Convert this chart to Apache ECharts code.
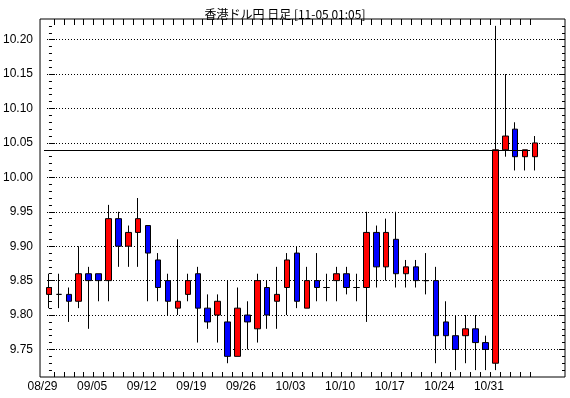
<!DOCTYPE html>
<html>
<head>
<meta charset="utf-8">
<script src="https://cdn.jsdelivr.net/npm/echarts@6/dist/echarts.min.js"></script>
<style>
  html, body { margin: 0; padding: 0; background: #fff; }
  #chart { width: 570px; height: 398px; }
</style>
</head>
<body>
<div id="chart"></div>
<script>
// trading days, 2011-08-29 .. 2011-11-04
var dates = [
  '08/29', '08/30', '08/31', '09/01', '09/02',
  '09/05', '09/06', '09/07', '09/08', '09/09',
  '09/12', '09/13', '09/14', '09/15', '09/16',
  '09/19', '09/20', '09/21', '09/22', '09/23',
  '09/26', '09/27', '09/28', '09/29', '09/30',
  '10/03', '10/04', '10/05', '10/06', '10/07',
  '10/10', '10/11', '10/12', '10/13', '10/14',
  '10/17', '10/18', '10/19', '10/20', '10/21',
  '10/24', '10/25', '10/26', '10/27', '10/28',
  '10/31', '11/01', '11/02', '11/03', '11/04'
];
var opens = [
  9.83, 9.83, 9.83, 9.82, 9.86, 9.86, 9.85, 9.94, 9.90, 9.92,
  9.93, 9.88, 9.85, 9.81, 9.83, 9.86, 9.81, 9.80, 9.79, 9.74,
  9.80, 9.78, 9.84, 9.82, 9.84, 9.89, 9.81, 9.85, 9.84, 9.85,
  9.86, 9.84, 9.84, 9.92, 9.87, 9.91, 9.86, 9.87, 9.85, 9.85,
  9.79, 9.77, 9.77, 9.78, 9.76, 9.73, 10.04, 10.07, 10.03, 10.03
];
var closes = [
  9.84, 9.83, 9.82, 9.86, 9.85, 9.85, 9.94, 9.90, 9.92, 9.94,
  9.89, 9.84, 9.82, 9.82, 9.85, 9.81, 9.79, 9.82, 9.74, 9.81,
  9.79, 9.85, 9.80, 9.83, 9.88, 9.82, 9.85, 9.84, 9.84, 9.86,
  9.84, 9.84, 9.92, 9.87, 9.92, 9.86, 9.87, 9.85, 9.85, 9.77,
  9.77, 9.75, 9.78, 9.76, 9.75, 10.04, 10.06, 10.03, 10.04, 10.05
];
var lows = [
  9.81, 9.81, 9.79, 9.81, 9.78, 9.82, 9.82, 9.87, 9.87, 9.87,
  9.82, 9.82, 9.80, 9.80, 9.82, 9.76, 9.78, 9.76, 9.73, 9.74,
  9.75, 9.76, 9.78, 9.78, 9.80, 9.81, 9.81, 9.82, 9.82, 9.82,
  9.83, 9.82, 9.79, 9.84, 9.85, 9.84, 9.84, 9.84, 9.83, 9.73,
  9.75, 9.72, 9.73, 9.72, 9.72, 9.72, 10.03, 10.01, 10.01, 10.01
];
var highs = [
  9.86, 9.86, 9.84, 9.90, 9.87, 9.86, 9.96, 9.95, 9.93, 9.97,
  9.93, 9.89, 9.86, 9.91, 9.86, 9.87, 9.83, 9.83, 9.85, 9.84,
  9.82, 9.86, 9.85, 9.87, 9.89, 9.90, 9.87, 9.89, 9.86, 9.87,
  9.87, 9.86, 9.95, 9.93, 9.94, 9.95, 9.88, 9.88, 9.89, 9.87,
  9.82, 9.80, 9.80, 9.80, 9.77, 10.22, 10.15, 10.08, 10.04, 10.06
];
var yLabels = [9.75, 9.80, 9.85, 9.90, 9.95, 10.00, 10.05, 10.10, 10.15, 10.20];
var currentPrice = 10.04;
var title = '香港ドル円 日足 [11-05 01:05]';

var Y_MIN = 9.71, Y_MAX = 10.23;
var X_MIN = -0.9, X_MAX = 52.02;
var FONT = '"Liberation Sans Narrow", "Liberation Sans", Arial, sans-serif';

var candles = dates.map(function (d, i) {
  return [i, opens[i], closes[i], lows[i], highs[i]];
});

var minorTicks = [];
for (var k = 1; k < 52; k++) minorTicks.push(+(Y_MIN + k * 0.01).toFixed(2));

var dayTicks = [];
for (var t = 1; t < dates.length; t++) dayTicks.push(t - 0.5);

var labelPos = [];
dates.forEach(function (d, i) { if (i % 5 === 0) labelPos.push(i - 0.65); });

var chart = echarts.init(document.getElementById('chart'), null, { renderer: 'canvas' });

var option = {
  animation: false,
  backgroundColor: '#fff',
  title: {
    text: title,
    left: 'center',
    top: 3,
    textStyle: { fontSize: 12, fontWeight: 'normal', color: '#000', fontFamily: '"Noto Sans CJK JP", sans-serif' }
  },
  grid: [
    { left: 40, right: 5, top: 19, bottom: 21, show: true, borderColor: '#000', borderWidth: 1, backgroundColor: '#fff' },
    { left: 47, right: 12, top: 19, bottom: 21, show: false }
  ],
  xAxis: [
    {
      type: 'value', gridIndex: 0, min: X_MIN, max: X_MAX, position: 'bottom',
      axisLine: { show: false },
      splitLine: { show: false },
      axisTick: { show: true, inside: true, length: 5, customValues: dayTicks, lineStyle: { color: '#000' } },
      axisLabel: {
        customValues: labelPos, color: '#000', fontSize: 12, fontFamily: FONT, margin: 4,
        formatter: function (v) { return dates[Math.round(v + 0.65)]; }
      }
    },
    {
      type: 'value', gridIndex: 0, min: X_MIN, max: X_MAX, position: 'top',
      axisLine: { show: false },
      splitLine: { show: false },
      axisTick: { show: true, inside: true, length: 6, customValues: dayTicks, lineStyle: { color: '#000' } },
      axisLabel: { show: false }
    },
    {
      type: 'value', gridIndex: 1, min: 0, max: 1, show: false
    }
  ],
  yAxis: [
    {
      type: 'value', gridIndex: 0, min: Y_MIN, max: Y_MAX, position: 'left',
      axisLine: { show: false },
      splitLine: { show: false },
      axisTick: { show: true, inside: true, length: 6, customValues: yLabels, lineStyle: { color: '#000' } },
      axisLabel: {
        customValues: yLabels, color: '#000', fontSize: 12, fontFamily: FONT, margin: 7,
        formatter: function (v) { return v.toFixed(2); }
      }
    },
    {
      type: 'value', gridIndex: 0, min: Y_MIN, max: Y_MAX, position: 'left',
      axisLine: { show: false },
      splitLine: { show: false },
      axisTick: { show: true, inside: true, length: 3, customValues: minorTicks, lineStyle: { color: '#000' } },
      axisLabel: { show: false }
    },
    {
      type: 'value', gridIndex: 0, min: Y_MIN, max: Y_MAX, position: 'right',
      axisLine: { show: false },
      splitLine: { show: false },
      axisTick: { show: true, inside: true, length: 3, customValues: minorTicks, lineStyle: { color: '#000' } },
      axisLabel: { show: false }
    },
    {
      type: 'value', gridIndex: 0, min: Y_MIN, max: Y_MAX, position: 'right',
      axisLine: { show: false },
      splitLine: { show: false },
      axisTick: { show: true, inside: true, length: 6, customValues: yLabels, lineStyle: { color: '#000' } },
      axisLabel: { show: false }
    },
    {
      type: 'value', gridIndex: 1, min: Y_MIN, max: Y_MAX,
      axisLine: { show: false },
      axisLabel: { show: false },
      axisTick: { show: false, customValues: yLabels },
      splitLine: { show: true, lineStyle: { color: '#000', type: [1, 2], width: 1 } }
    }
  ],
  series: [
    {
      type: 'candlestick',
      xAxisIndex: 0,
      yAxisIndex: 0,
      data: candles,
      barWidth: 6,
      itemStyle: {
        color: '#ff0000',
        color0: '#0000ff',
        borderColor: '#000',
        borderColor0: '#000',
        borderColorDoji: '#000',
        borderWidth: 1
      },
      markLine: {
        silent: true,
        symbol: 'none',
        label: { show: false },
        lineStyle: { color: '#000', type: 'solid', width: 1 },
        data: [[
          { coord: [-0.5, currentPrice] },
          { coord: [dates.length - 1.5, currentPrice] }
        ]]
      }
    }
  ]
};

chart.setOption(option);
</script>
</body>
</html>
